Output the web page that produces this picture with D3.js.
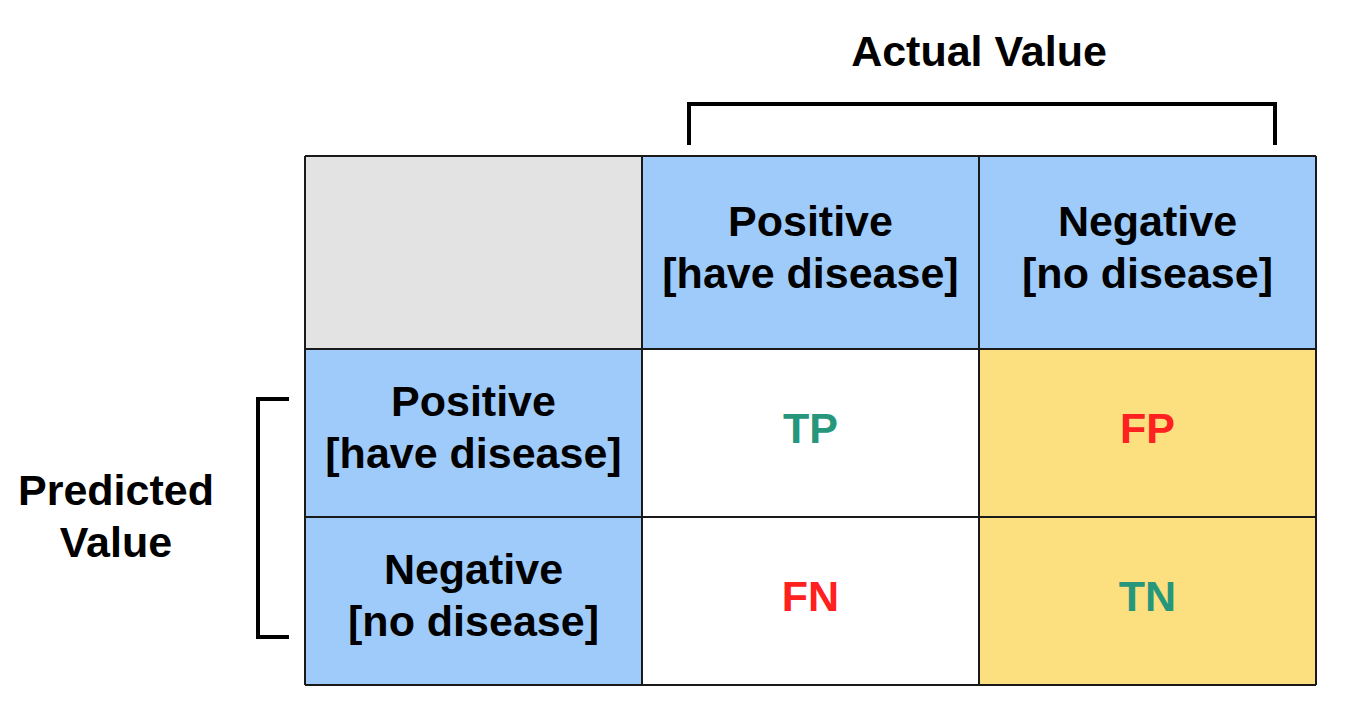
<!DOCTYPE html>
<html>
<head>
<meta charset="utf-8">
<script src="https://cdn.jsdelivr.net/npm/d3@7"></script>
<style>
  body { margin: 0; background: #fff; }
  text { font-family: "Liberation Sans", Arial, sans-serif; font-weight: bold; }
</style>
</head>
<body>
<div id="chart"></div>
<script>
// column / row headers, each split in two lines
var actualLabels = [["Positive", "[have disease]"], ["Negative", "[no disease]"]];
var predictedLabels = [["Positive", "[have disease]"], ["Negative", "[no disease]"]];

// confusion matrix cells (row = predicted, col = actual)
var cellLabels = [["TP", "FP"], ["FN", "TN"]];
var cellKinds = [["true", "false"], ["false", "true"]];

var width = 1370, height = 706;
var fontSize = 43;

var svg = d3.select("#chart").append("svg")
    .attr("width", width)
    .attr("height", height);

// table layout
var tableLeft = 305, tableTop = 156, headerH = 193, bodyH = 336;

var x = d3.scaleBand()
    .domain(["head", 0, 1])
    .range([tableLeft, 1316]);

var y = d3.scaleBand()
    .domain([0, 1])
    .range([tableTop + headerH, tableTop + headerH + bodyH]);

var blue = "#9fcbfa", grey = "#e3e3e3", yellow = "#fcdf7e";
var textColor = { "true": "#26977a", "false": "#ff2020" };

// top-left empty corner
svg.append("rect")
    .attr("x", x("head")).attr("y", tableTop)
    .attr("width", x.bandwidth()).attr("height", headerH)
    .attr("fill", grey);

// actual value headers
var colHead = svg.selectAll(".colhead")
    .data(actualLabels)
    .enter().append("g")
    .attr("class", "colhead");

colHead.append("rect")
    .attr("x", function(d, i) { return x(i); })
    .attr("y", tableTop)
    .attr("width", x.bandwidth())
    .attr("height", headerH)
    .attr("fill", blue);

colHead.append("text")
    .attr("text-anchor", "middle")
    .attr("font-size", fontSize)
    .selectAll("tspan")
    .data(function(d, i) { return d.map(function(s) { return { s: s, i: i }; }); })
    .enter().append("tspan")
    .attr("x", function(d) { return x(d.i) + x.bandwidth() / 2; })
    .attr("y", function(d, j) { return tableTop + headerH / 2 - 17 + j * 52; })
    .text(function(d) { return d.s; });

// predicted value headers
var rowHead = svg.selectAll(".rowhead")
    .data(predictedLabels)
    .enter().append("g")
    .attr("class", "rowhead");

rowHead.append("rect")
    .attr("x", x("head"))
    .attr("y", function(d, i) { return y(i); })
    .attr("width", x.bandwidth())
    .attr("height", y.bandwidth())
    .attr("fill", blue);

rowHead.append("text")
    .attr("text-anchor", "middle")
    .attr("font-size", fontSize)
    .selectAll("tspan")
    .data(function(d, i) { return d.map(function(s) { return { s: s, i: i }; }); })
    .enter().append("tspan")
    .attr("x", x("head") + x.bandwidth() / 2)
    .attr("y", function(d, j) { return y(d.i) + y.bandwidth() / 2 - 17 + j * 52; })
    .text(function(d) { return d.s; });

// body cells
var cells = [];
cellLabels.forEach(function(row, r) {
    row.forEach(function(lab, c) {
        cells.push({ r: r, c: c, label: lab, kind: cellKinds[r][c] });
    });
});

var cell = svg.selectAll(".cell")
    .data(cells)
    .enter().append("g")
    .attr("class", "cell");

cell.append("rect")
    .attr("x", function(d) { return x(d.c); })
    .attr("y", function(d) { return y(d.r); })
    .attr("width", x.bandwidth())
    .attr("height", y.bandwidth())
    .attr("fill", function(d) { return d.c === 1 ? yellow : "#fff"; });

cell.append("text")
    .attr("x", function(d) { return x(d.c) + x.bandwidth() / 2; })
    .attr("y", function(d) { return y(d.r) + y.bandwidth() / 2 + 10; })
    .attr("text-anchor", "middle")
    .attr("font-size", fontSize)
    .attr("fill", function(d) { return textColor[d.kind]; })
    .text(function(d) { return d.label; });

// grid lines
var gridColor = "#1a1a1a";
var xs = [tableLeft, x(0), x(1), x(1) + x.bandwidth()];
var ys = [tableTop, y(0), y(1), y(1) + y.bandwidth()];

svg.selectAll(".vline")
    .data(xs)
    .enter().append("line")
    .attr("x1", function(d) { return d; }).attr("x2", function(d) { return d; })
    .attr("y1", tableTop).attr("y2", ys[3])
    .attr("stroke", gridColor).attr("stroke-width", 2);

svg.selectAll(".hline")
    .data(ys)
    .enter().append("line")
    .attr("x1", tableLeft).attr("x2", xs[3])
    .attr("y1", function(d) { return d; }).attr("y2", function(d) { return d; })
    .attr("stroke", gridColor).attr("stroke-width", 2);

// brackets
svg.append("path")
    .attr("d", "M689,145 V104 H1275 V145")
    .attr("fill", "none").attr("stroke", "#000").attr("stroke-width", 4);

svg.append("path")
    .attr("d", "M289,399 H258 V637 H289")
    .attr("fill", "none").attr("stroke", "#000").attr("stroke-width", 4);

// axis titles
svg.append("text")
    .attr("x", (x(0) + x(1) + x.bandwidth()) / 2)
    .attr("y", 66)
    .attr("text-anchor", "middle")
    .attr("font-size", fontSize)
    .text("Actual Value");

svg.append("text")
    .attr("text-anchor", "middle")
    .attr("font-size", fontSize)
    .selectAll("tspan")
    .data(["Predicted", "Value"])
    .enter().append("tspan")
    .attr("x", 116)
    .attr("y", function(d, j) { return 505 + j * 52; })
    .text(function(d) { return d; });
</script>
</body>
</html>
